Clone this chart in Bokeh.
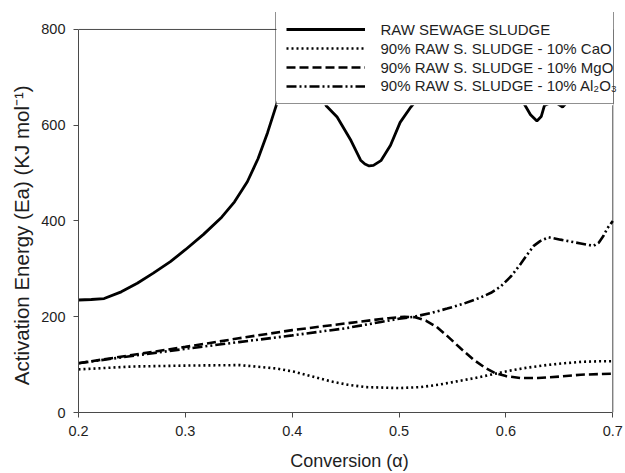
from bokeh.plotting import figure
from bokeh.models import Range1d, FixedTicker, Legend, LegendItem, Label, BoxAnnotation
from bokeh.embed import file_html
from bokeh.resources import INLINE

# ---------------- data ----------------
alpha_raw = [0.200, 0.212, 0.224, 0.240, 0.255, 0.270, 0.286, 0.300, 0.317, 0.334,
             0.346, 0.358, 0.368, 0.377, 0.385, 0.395, 0.405, 0.415, 0.425, 0.432,
             0.442, 0.455, 0.464, 0.468, 0.472, 0.476, 0.483, 0.492, 0.501, 0.511,
             0.530, 0.560, 0.590, 0.610, 0.617, 0.623, 0.629, 0.633, 0.636, 0.645,
             0.653, 0.662, 0.680, 0.700]
ea_raw = [235, 236, 238, 252, 270, 291, 315, 340, 372, 408,
          440, 482, 530, 585, 641, 690, 710, 705, 675, 640,
          617, 568, 527, 519, 515, 516, 526, 558, 606, 638,
          690, 700, 690, 665, 645, 622, 609, 618, 641, 650,
          638, 660, 690, 700]

alpha_cao = [0.200, 0.250, 0.300, 0.351, 0.385, 0.402, 0.419, 0.436, 0.452, 0.469,
             0.500, 0.520, 0.537, 0.554, 0.571, 0.588, 0.605, 0.621, 0.638, 0.655,
             0.672, 0.689, 0.700]
ea_cao = [90, 96, 98, 99, 92, 85, 75, 65, 58, 53,
          51, 53, 58, 65, 72, 80, 88, 94, 99, 103,
          106, 107, 107]

alpha_mgo = [0.200, 0.250, 0.300, 0.350, 0.400, 0.450, 0.490, 0.505, 0.515, 0.525,
             0.535, 0.545, 0.558, 0.570, 0.580, 0.590, 0.600, 0.614, 0.630, 0.650,
             0.670, 0.700]
ea_mgo = [103, 120, 137, 155, 172, 186, 197, 200, 199, 192,
          179, 160, 133, 110, 94, 82, 76, 72, 72, 75,
          79, 81]

alpha_al = [0.200, 0.250, 0.300, 0.350, 0.400, 0.450, 0.483, 0.500, 0.514, 0.530,
            0.545, 0.560, 0.576, 0.586, 0.595, 0.605, 0.614, 0.620, 0.626, 0.632,
            0.640, 0.651, 0.670, 0.682, 0.687, 0.691, 0.695, 0.700]
ea_al = [103, 118, 133, 147, 161, 176, 189, 196, 200, 208,
         217, 227, 240, 250, 263, 285, 311, 330, 348, 358,
         366, 361, 353, 348, 355, 368, 385, 400]

series_names = ["RAW SEWAGE SLUDGE",
                "90% RAW S. SLUDGE - 10% CaO",
                "90% RAW S. SLUDGE - 10% MgO",
                "90% RAW S. SLUDGE - 10% Al\u2082O\u2083"]
x_ticks = [0.2, 0.3, 0.4, 0.5, 0.6, 0.7]
y_ticks = [0, 200, 400, 600, 800]

FONT = "Liberation Sans"
AXIS_COLOR = "#4a4a4a"
TEXT_COLOR = "#1e1e1e"

W, H = 625, 473
BL, BR, BT, BB = 78, 5, 12, 60
# the frame is a bit larger than the 0.2-0.7 / 0-800 box so that the legend
# (which sticks out above and to the right of that box) is not clipped
plot_w = W - BL - BR
plot_h = H - BT - BB
box_w = 534.3   # pixel width of 0.2..0.7
box_h = 384.0   # pixel height of 0..800
x0, x1 = x_ticks[0], x_ticks[-1]
y0, y1 = y_ticks[0], y_ticks[-1]
x_end = x0 + (x1 - x0) * plot_w / box_w
y_end = y0 + (y1 - y0) * plot_h / box_h
px_x = box_w / (x1 - x0)
px_y = box_h / (y1 - y0)

p = figure(width=W, height=H, output_backend="svg", toolbar_location=None,
           x_range=Range1d(x0, x_end), y_range=Range1d(y0, y_end),
           min_border_left=BL, min_border_right=BR, min_border_top=BT, min_border_bottom=BB)
p.xgrid.visible = False
p.ygrid.visible = False
p.outline_line_color = None
p.background_fill_color = "white"
p.border_fill_color = "white"

for ax in (p.xaxis[0], p.yaxis[0]):
    ax.axis_line_color = AXIS_COLOR
    ax.major_tick_line_color = AXIS_COLOR
    ax.major_tick_out = 5
    ax.major_tick_in = 0
    ax.minor_tick_line_color = None
    ax.major_label_text_font = FONT
    ax.major_label_text_font_size = "14.5px"
    ax.major_label_text_color = TEXT_COLOR
    ax.axis_label_text_font = FONT
    ax.axis_label_text_font_style = "normal"
    ax.axis_label_text_color = TEXT_COLOR

p.xaxis.bounds = (x0, x1)
p.yaxis.bounds = (y0, y1)
p.xaxis.ticker = FixedTicker(ticks=x_ticks)
p.yaxis.ticker = FixedTicker(ticks=y_ticks)
p.xaxis.major_label_overrides = {t: f"{t:.1f}" for t in x_ticks}
p.xaxis.major_label_standoff = 8
p.xaxis.axis_label_standoff = 12
p.xaxis.axis_label_text_font_size = "18px"
p.yaxis.major_label_standoff = 8
p.yaxis.axis_label_standoff = 5
p.yaxis.axis_label_text_font_size = "20.5px"
p.xaxis.axis_label = "Conversion (\u03b1)"
# trailing no-break spaces shift the centred label downwards, as in the reference
p.yaxis.axis_label = "Activation Energy (Ea) (KJ mol\u207b\u00b9)" + "\u00a0" * 8

# top and right edges of the plot box
p.segment(x0=[x0], y0=[y1], x1=[x1], y1=[y1], line_color=AXIS_COLOR, line_width=1)
p.segment(x0=[x1], y0=[y0], x1=[x1], y1=[y1], line_color=AXIS_COLOR, line_width=1)

r_raw = p.line(alpha_raw, ea_raw, line_color="black", line_width=2.8)
r_cao = p.line(alpha_cao, ea_cao, line_color="black", line_width=2.6, line_dash="2 3")
r_mgo = p.line(alpha_mgo, ea_mgo, line_color="black", line_width=2.6, line_dash="9 4")
r_al = p.line(alpha_al, ea_al, line_color="black", line_width=2.6, line_dash="10 3 2 3 2 3")

# white legend background (drawn below the legend texts)
leg_left_px, leg_right_px, leg_top_px, leg_bottom_px = 276, 612.5, 12.7, 105
def xd(px):
    return x0 + (px - BL) / px_x
def yd(py):
    return y0 + (BT + plot_h - py) / px_y
p.add_layout(BoxAnnotation(left=xd(leg_left_px), right=xd(leg_right_px),
                           top=yd(leg_top_px), bottom=yd(leg_bottom_px),
                           fill_color="white", fill_alpha=1.0, line_color=None,
                           level="annotation"))

# legend texts
text_x = xd(380)
text_rows = [yd(29), yd(48), yd(67), yd(85.5)]
for name, ty in zip(series_names, text_rows):
    p.add_layout(Label(x=text_x, y=ty, text=name, text_font=FONT, text_font_size="15px",
                       text_color=TEXT_COLOR, text_baseline="middle", text_align="left",
                       level="overlay"))

items = [LegendItem(label=" ", renderers=[r]) for r in (r_raw, r_cao, r_mgo, r_al)]
legend = Legend(items=items, location=(197, 308), orientation="vertical",
                glyph_width=79, glyph_height=14, label_width=238, label_height=14,
                label_standoff=0, spacing=5, padding=10, margin=0,
                border_line_color="#222222", border_line_width=1,
                background_fill_alpha=0.0,
                label_text_font_size="15px")
p.add_layout(legend)

open("out.html", "w").write(file_html(p, INLINE))
